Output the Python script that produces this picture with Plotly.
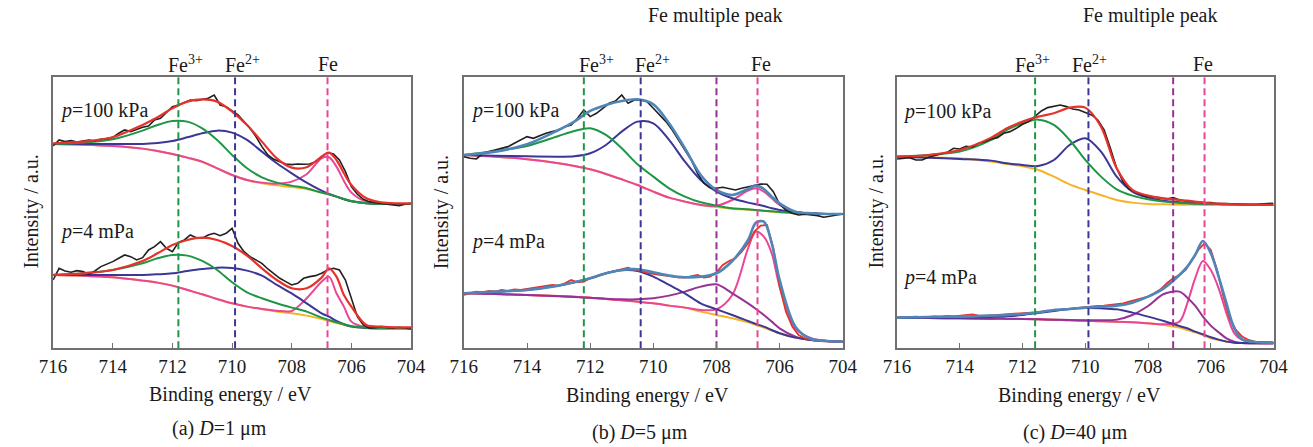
import plotly.graph_objects as go

# ---------------------------------------------------------------------------
# Binding-energy sampling (eV) for the fitted curves and for the raw spectra
# ---------------------------------------------------------------------------
E_ab = [716, 715, 714, 713, 712.5, 712, 711.5, 711, 710.5, 710, 709.5, 709,
        708.5, 708, 707.5, 707, 706.75, 706.5, 706.25, 706, 705.5, 705, 704.5, 704]
E_c = [716, 715, 714, 713, 712.5, 712, 711.5, 711, 710.5, 710, 709.5, 709,
       708.5, 708, 707.5, 707, 706.75, 706.5, 706.25, 706, 705.75, 705.5,
       705.25, 705, 704.5, 704]
E_raw = [716.0, 715.8, 715.6, 715.4, 715.2, 715.0, 714.8, 714.6, 714.4, 714.2,
         714.0, 713.8, 713.6, 713.4, 713.2, 713.0, 712.8, 712.6, 712.4, 712.2,
         712.0, 711.8, 711.6, 711.4, 711.2, 711.0, 710.8, 710.6, 710.4, 710.2,
         710.0, 709.8, 709.6, 709.4, 709.2, 709.0, 708.8, 708.6, 708.4, 708.2,
         708.0, 707.8, 707.6, 707.4, 707.2, 707.0, 706.8, 706.6, 706.4, 706.2,
         706.0, 705.8, 705.6, 705.4, 705.2, 705.0, 704.8, 704.6, 704.4, 704.2,
         704.0]

# ---------------------------------------------------------------------------
# (a) D = 1 um   (intensity, arbitrary units, stacked spectra)
# ---------------------------------------------------------------------------
a_hi_raw = [607, 625, 620, 623, 619, 622, 625, 622, 627, 629,
            633, 645, 655, 650, 657, 663, 667, 685, 690, 707,
            725, 730, 737, 745, 743, 747, 750, 760, 730, 725,
            713, 700, 680, 660, 635, 605, 580, 567, 560, 553,
            551, 553, 552, 553, 560, 575, 587, 583, 565, 530,
            485, 462, 447, 440, 437, 435, 432, 430, 428, 432,
            435]
a_hi_fit = [615, 620, 633, 670, 693, 720, 740, 747, 740, 710, 670, 620,
            570, 542, 543, 575, 587, 565, 525, 490, 450, 438, 435, 435]
a_hi_fe3 = [613, 617, 627, 653, 670, 682, 680, 660, 625, 580, 540, 513,
            497, 488, 480, 467, 462, 455, 448, 442, 435, 433, 433, 433]
a_hi_fe2 = [613, 613, 613, 613, 616, 622, 633, 645, 653, 647, 625, 590,
            555, 525, 497, 473, 463, 455, 447, 441, 435, 433, 433, 433]
a_hi_fe0 = [613, 611, 607, 599, 592, 583, 572, 560, 540, 520, 505, 497,
            494, 500, 522, 570, 573, 545, 502, 467, 440, 434, 433, 433]
a_hi_bkg = [613, 611, 607, 599, 592, 583, 572, 559, 540, 520, 505, 495,
            489, 484, 478, 467, 461, 455, 448, 441, 435, 433, 433, 433]

a_lo_raw = [205, 240, 232, 228, 233, 230, 222, 232, 245, 252,
            260, 270, 280, 275, 265, 272, 295, 305, 320, 300,
            290, 318, 325, 340, 332, 330, 340, 345, 338, 345,
            360, 315, 290, 275, 265, 255, 238, 225, 210, 200,
            190, 195, 210, 215, 218, 225, 235, 240, 235, 205,
            150, 95, 70, 60, 62, 65, 62, 60, 63, 60,
            58]
a_lo_fit = [220, 225, 235, 262, 285, 310, 325, 332, 325, 307, 278, 240,
            205, 180, 180, 212, 240, 215, 160, 125, 70, 65, 63, 63]
a_lo_fe3 = [220, 225, 235, 255, 270, 280, 278, 262, 235, 198, 168, 150,
            135, 122, 110, 92, 85, 78, 72, 67, 62, 60, 60, 60]
a_lo_fe2 = [220, 220, 220, 220, 222, 225, 232, 238, 242, 241, 233, 218,
            190, 165, 135, 105, 95, 82, 72, 65, 61, 60, 60, 60]
a_lo_fe0 = [220, 218, 213, 203, 197, 188, 175, 162, 148, 135, 125, 118,
            113, 112, 150, 200, 215, 165, 125, 80, 63, 60, 60, 60]
a_lo_bkg = [220, 218, 213, 203, 197, 188, 175, 162, 148, 135, 125, 118,
            110, 105, 98, 88, 82, 76, 70, 65, 61, 60, 60, 60]

# ---------------------------------------------------------------------------
# (b) D = 5 um
# ---------------------------------------------------------------------------
b_hi_raw = [575, 570, 568, 585, 590, 595, 598, 605, 615, 625,
            635, 630, 638, 645, 650, 655, 665, 670, 690, 715,
            695, 705, 720, 735, 742, 760, 735, 745, 745, 740,
            720, 700, 680, 655, 625, 595, 565, 525, 495, 482,
            480, 483, 478, 475, 480, 485, 490, 493, 492, 470,
            432, 415, 405, 400, 402, 400, 398, 393, 397, 400,
            403]
b_hi_fit = [580, 590, 612, 655, 680, 712, 730, 742, 747, 732, 675, 600,
            520, 475, 460, 478, 488, 478, 455, 435, 410, 405, 403, 403]
b_hi_fe3 = [580, 592, 607, 637, 652, 660, 640, 600, 552, 515, 480, 455,
            438, 428, 420, 417, 415, 413, 411, 409, 406, 404, 403, 403]
b_hi_fe2 = [580, 578, 576, 575, 576, 585, 610, 650, 680, 675, 625, 560,
            505, 470, 450, 437, 432, 427, 420, 415, 408, 405, 403, 403]
b_hi_fe0 = [580, 575, 567, 555, 547, 537, 523, 507, 490, 470, 452, 440,
            430, 428, 445, 473, 480, 470, 450, 430, 410, 405, 403, 403]
b_hi_bkg = [580, 575, 567, 555, 547, 537, 523, 507, 490, 470, 452, 440,
            430, 424, 419, 416, 414, 412, 410, 408, 405, 404, 403, 403]

b_lo_raw = [160, 165, 170, 168, 172, 170, 175, 172, 177, 175,
            178, 180, 183, 187, 190, 188, 195, 205, 198, 200,
            210, 215, 222, 228, 232, 238, 242, 235, 232, 226,
            222, 220, 218, 215, 213, 212, 215, 220, 212, 215,
            228, 250, 262, 270, 290, 315, 350, 368, 370, 300,
            185, 110, 65, 40, 30, 25, 22, 21, 20, 20,
            20]
b_lo_fit = [165, 170, 175, 188, 198, 210, 225, 235, 237, 228, 218, 213,
            215, 225, 262, 325, 377, 380, 315, 205, 65, 28, 22, 20]
b_lo_fe2 = [165, 170, 175, 188, 198, 210, 225, 234, 232, 215, 190, 165,
            135, 117, 100, 82, 73, 65, 55, 45, 32, 25, 22, 20]
b_lo_sat = [165, 163, 160, 156, 154, 152, 149, 147, 147, 150, 158, 170,
            185, 192, 165, 135, 118, 100, 80, 60, 35, 25, 22, 20]
b_lo_fe0 = [165, 163, 160, 157, 155, 152, 148, 144, 140, 135, 128, 122,
            115, 117, 160, 300, 350, 335, 285, 185, 60, 30, 22, 20]
b_lo_bkg = [165, 163, 160, 157, 155, 152, 148, 144, 140, 135, 128, 122,
            110, 100, 90, 78, 70, 62, 53, 45, 32, 25, 22, 20]

# ---------------------------------------------------------------------------
# (c) D = 40 um
# ---------------------------------------------------------------------------
c_hi_raw = [568, 570, 572, 565, 565, 573, 578, 583, 588, 600,
            598, 606, 604, 615, 620, 628, 632, 645, 650, 660,
            672, 680, 695, 712, 722, 727, 730, 725, 718, 715,
            708, 700, 685, 655, 600, 540, 500, 478, 468, 460,
            455, 452, 450, 448, 452, 445, 442, 440, 438, 437,
            437, 434, 434, 433, 432, 433, 432, 432, 433, 433,
            435]
c_hi_fit = [575, 580, 595, 632, 660, 680, 695, 705, 722, 722, 665, 540,
            475, 458, 450, 445, 443, 440, 437, 435, 434, 433, 432, 432, 431, 430]
c_hi_fe3 = [575, 580, 590, 625, 655, 675, 686, 670, 625, 565, 515, 477,
            458, 447, 440, 436, 435, 434, 434, 433, 433, 432, 432, 431, 430, 430]
c_hi_fe2 = [575, 572, 568, 563, 555, 550, 547, 565, 610, 630, 590, 515,
            470, 452, 443, 438, 436, 435, 434, 433, 433, 432, 432, 431, 430, 430]
c_hi_bkg = [575, 573, 570, 560, 553, 546, 535, 515, 492, 475, 460, 445,
            437, 433, 432, 431, 431, 431, 430, 430, 430, 430, 430, 430, 430, 430]

c_lo_raw = [92, 93, 92, 95, 93, 95, 96, 95, 97, 96,
            98, 99, 102, 98, 97, 99, 100, 102, 103, 104,
            105, 106, 108, 110, 112, 115, 117, 118, 120, 122,
            124, 125, 127, 128, 130, 133, 135, 140, 145, 150,
            155, 165, 177, 195, 210, 220, 235, 265, 295, 315,
            295, 235, 155, 90, 55, 35, 25, 20, 20, 18,
            18]
c_lo_fit = [92, 94, 95, 98, 100, 103, 108, 115, 118, 122, 125, 128,
            137, 155, 180, 220, 245, 280, 322, 285, 215, 135, 60, 27, 18, 17]
c_lo_fe2 = [92, 92, 92, 94, 96, 100, 106, 112, 118, 121, 120, 117,
            107, 95, 82, 67, 60, 50, 42, 33, 26, 20, 17, 16, 15, 15]
c_lo_sat = [92, 91, 90, 89, 89, 88, 87, 86, 85, 84, 84, 86,
            100, 127, 163, 170, 152, 128, 95, 68, 48, 30, 20, 16, 15, 15]
c_lo_fe0 = [92, 91, 90, 89, 88, 88, 87, 86, 84, 83, 81, 80,
            78, 75, 72, 80, 135, 210, 262, 235, 180, 105, 45, 25, 16, 15]
c_lo_bkg = [92, 91, 90, 89, 88, 88, 87, 86, 84, 83, 81, 80,
            78, 75, 70, 62, 55, 48, 40, 30, 25, 20, 17, 16, 15, 15]

# Peak positions (eV) marked by dashed lines
peaks_a = [711.8, 709.9, 706.8]
peaks_b = [712.2, 710.4, 708.0, 706.7]
peaks_c = [711.6, 709.9, 707.2, 706.2]

# Positions (eV) of the species labels above each panel
ions = ["Fe<sup>3+</sup>", "Fe<sup>2+</sup>", "Fe"]
ion_x_a = [711.57, 709.64, 706.79]
ion_x_b = [711.81, 710.02, 706.60]
ion_x_c = [711.67, 709.87, 706.26]

# ---------------------------------------------------------------------------
# Styling
# ---------------------------------------------------------------------------
W, H = 1313, 447
FONT = "Liberation Serif"
TXT = "#1a1a1a"
AXIS = "#707070"
C_RAW = "#231f20"
C_RED = "#e6322a"
C_FE3 = "#1f9646"
C_FE2 = "#3c3796"
C_FE0 = "#eb4696"
C_BKG = "#f5b428"
C_SAT = "#963296"
C_FIT = "#4f86b8"
Y_MAX = 813

fig = go.Figure()


def curve(ax, x, y, color, width, smooth=True):
    fig.add_trace(go.Scatter(
        x=x, y=y, mode="lines",
        xaxis="x" if ax == 1 else f"x{ax}",
        yaxis="y" if ax == 1 else f"y{ax}",
        line=dict(color=color, width=width,
                  shape="spline" if smooth else "linear", smoothing=0.9),
        hoverinfo="skip", showlegend=False))


def vline(ax, pos, color):
    fig.add_trace(go.Scatter(
        x=[pos, pos], y=[0, Y_MAX], mode="lines",
        xaxis="x" if ax == 1 else f"x{ax}",
        yaxis="y" if ax == 1 else f"y{ax}",
        line=dict(color=color, width=2, dash="7px,4px"),
        hoverinfo="skip", showlegend=False))


# (a)
for grp in [(a_hi_raw, a_hi_fit, a_hi_fe3, a_hi_fe2, a_hi_fe0, a_hi_bkg),
            (a_lo_raw, a_lo_fit, a_lo_fe3, a_lo_fe2, a_lo_fe0, a_lo_bkg)]:
    raw, fit, fe3, fe2, fe0, bkg = grp
    curve(1, E_ab, bkg, C_BKG, 2)
    curve(1, E_ab, fe0, C_FE0, 2)
    curve(1, E_ab, fe2, C_FE2, 2)
    curve(1, E_ab, fe3, C_FE3, 2)
    curve(1, E_raw, raw, C_RAW, 1.6, smooth=False)
    curve(1, E_ab, fit, C_RED, 2.2)

# (b)
curve(2, E_ab, b_hi_bkg, C_BKG, 2)
curve(2, E_ab, b_hi_fe0, C_FE0, 2)
curve(2, E_ab, b_hi_fe2, C_FE2, 2)
curve(2, E_ab, b_hi_fe3, C_FE3, 2)
curve(2, E_raw, b_hi_raw, C_RAW, 1.6, smooth=False)
curve(2, E_ab, b_hi_fit, C_FIT, 2.6)
curve(2, E_ab, b_lo_bkg, C_BKG, 2)
curve(2, E_ab, b_lo_fe0, C_FE0, 2)
curve(2, E_ab, b_lo_sat, C_SAT, 2)
curve(2, E_ab, b_lo_fe2, C_FE2, 2)
curve(2, E_raw, b_lo_raw, C_RED, 1.8, smooth=False)
curve(2, E_ab, b_lo_fit, C_FIT, 2.6)

# (c)
curve(3, E_c, c_hi_bkg, C_BKG, 2)
curve(3, E_c, c_hi_fe2, C_FE2, 2)
curve(3, E_c, c_hi_fe3, C_FE3, 2)
curve(3, E_raw, c_hi_raw, C_RAW, 1.6, smooth=False)
curve(3, E_c, c_hi_fit, C_RED, 2.2)
curve(3, E_c, c_lo_bkg, C_BKG, 2)
curve(3, E_c, c_lo_fe0, C_FE0, 2)
curve(3, E_c, c_lo_sat, C_SAT, 2)
curve(3, E_c, c_lo_fe2, C_FE2, 2)
curve(3, E_raw, c_lo_raw, C_RED, 1.8, smooth=False)
curve(3, E_c, c_lo_fit, C_FIT, 2.6)

# dashed peak markers
for pos, col in zip(peaks_a, [C_FE3, C_FE2, C_FE0]):
    vline(1, pos, col)
for pos, col in zip(peaks_b, [C_FE3, C_FE2, C_SAT, C_FE0]):
    vline(2, pos, col)
for pos, col in zip(peaks_c, [C_FE3, C_FE2, C_SAT, C_FE0]):
    vline(3, pos, col)

# ---------------------------------------------------------------------------
# Axes
# ---------------------------------------------------------------------------
y_dom = [1 - 348.3 / H, 1 - 77.3 / H]
x_doms = [[40 / W, 406 / W], [460 / W, 847.5 / W], [903 / W, 1288 / W]]

axis_common = dict(showline=True, mirror=True, linecolor=AXIS, linewidth=1.5,
                   showgrid=False, zeroline=False)
layout = dict(width=W, height=H, margin=dict(l=0, r=0, t=0, b=0),
              paper_bgcolor="white", plot_bgcolor="white",
              font=dict(family=FONT, color=TXT), showlegend=False)
for i, dom in enumerate(x_doms, start=1):
    sfx = "" if i == 1 else str(i)
    layout[f"xaxis{sfx}"] = dict(
        domain=dom, range=[716, 704], anchor=f"y{sfx}",
        tickmode="array", tickvals=[716, 714, 712, 710, 708, 706, 704],
        ticks="inside", ticklen=6, tickwidth=1.2, tickcolor=AXIS,
        tickfont=dict(family=FONT, size=19, color=TXT), **axis_common)
    layout[f"yaxis{sfx}"] = dict(
        domain=y_dom, range=[0, Y_MAX], anchor=f"x{sfx}",
        showticklabels=False, ticks="", **axis_common)
fig.update_layout(**layout)

# ---------------------------------------------------------------------------
# Text
# ---------------------------------------------------------------------------
def text(px, py, s, size=20, anchor="center", angle=0):
    fig.add_annotation(x=px / W, y=1 - py / H, xref="paper", yref="paper",
                       text=s, showarrow=False, xanchor=anchor, yanchor="middle",
                       textangle=angle, font=dict(family=FONT, size=size, color=TXT))


for ax, xs in [(1, ion_x_a), (2, ion_x_b), (3, ion_x_c)]:
    for lab, xv in zip(ions, xs):
        fig.add_annotation(x=xv, y=1 - 64 / H, xref="x" if ax == 1 else f"x{ax}",
                           yref="paper", text=lab, showarrow=False,
                           xanchor="center", yanchor="middle",
                           font=dict(family=FONT, size=20, color=TXT))

text(45, 110.7, "<i>p</i>=100 kPa", anchor="left")
text(45, 231.7, "<i>p</i>=4 mPa", anchor="left")
text(465, 110.7, "<i>p</i>=100 kPa", anchor="left")
text(465, 241.7, "<i>p</i>=4 mPa", anchor="left")
text(907, 111.7, "<i>p</i>=100 kPa", anchor="left")
text(907, 277.3, "<i>p</i>=4 mPa", anchor="left")

text(717, 15.7, "Fe multiple peak")
text(1162, 15.7, "Fe multiple peak")

for px in [17, 437, 881]:
    text(px, 212, "Intensity / a.u.", angle=-90)

text(221, 394, "Binding energy / eV")
text(648, 395, "Binding energy / eV")
text(1090, 395, "Binding energy / eV")

text(210, 428, "(a) <i>D</i>=1 μm")
text(640, 432, "(b) <i>D</i>=5 μm")
text(1085, 432, "(c) <i>D</i>=40 μm")

fig.write_html("out.html")
